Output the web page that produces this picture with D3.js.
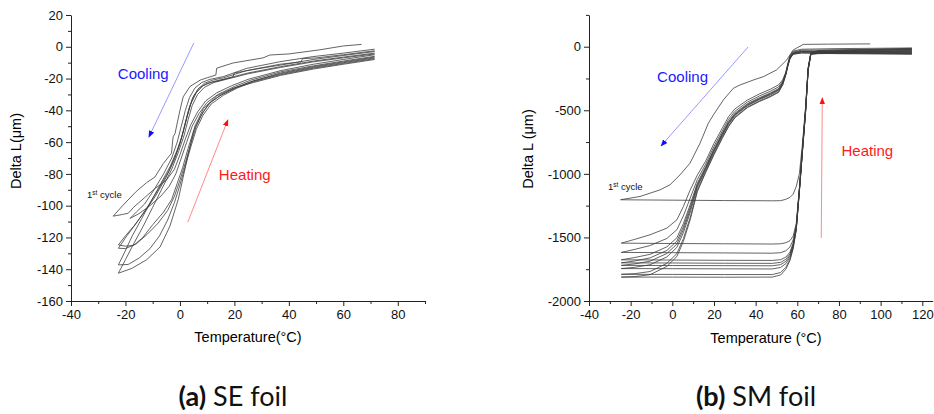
<!DOCTYPE html>
<html>
<head>
<meta charset="utf-8">
<script src="https://cdn.jsdelivr.net/npm/d3@7"></script>
<style>
  body { margin: 0; background: #fff; }
  text { font-family: "Liberation Sans", Arial, sans-serif; }
  text.caption { font-family: Lato, "Open Sans", sans-serif; }
</style>
</head>
<body>
<svg id="chart" width="934" height="414"></svg>
<script>
// ---- (a) SE foil : cooling branches (hot -> cold), [temperature, delta L]
var seCooling = [
  [[66.7,1.5],[60,0.5],[51,-2],[40,-4.5],[33,-5.2],[30.5,-7],[19.5,-10.2],[13.5,-13.5],[13.2,-17.8],[10,-19.5],[7.4,-21],[3.7,-25],[1.2,-31.5],[0,-40],[-1.8,-54.6],[-2.5,-56.7],[-3.1,-67],[-6.1,-73.5],[-9.2,-82],[-12.3,-85.6],[-16,-91],[-20.9,-99.7],[-24.5,-106.6]],
  [[71.5,-1.5],[60,-4],[48.8,-6.2],[36.7,-9.4],[24.5,-13.6],[15.9,-18.8],[11,-20.5],[8,-22.5],[5.5,-26],[3.5,-32],[2,-40],[0.5,-50],[-1,-60],[-3,-70],[-6,-80],[-9.5,-90],[-13,-99],[-16,-104],[-18.3,-108]],
  [[71.5,-2.5],[60,-5],[50,-7],[45,-7.5],[44.5,-9.5],[36.7,-11],[24.5,-15],[16,-19.5],[12,-21],[9,-23],[6.5,-27],[4.5,-33],[3,-41],[1.5,-51],[0,-61],[-2,-71],[-5,-82],[-9,-94],[-13,-104],[-17,-113],[-20,-119],[-22.6,-124.7]],
  [[71.5,-3],[60,-5.5],[49,-8],[37,-11.5],[28,-14],[20,-16.5],[19.5,-19],[14,-21.5],[10,-23],[7,-26],[5,-31],[3.5,-38],[2,-48],[0.5,-58],[-1.5,-68],[-4,-78],[-8,-90],[-12,-101],[-16,-111],[-19.5,-119],[-22.6,-126.8]],
  [[71.5,-4],[60,-6.5],[49,-9],[37,-12.5],[25,-16.5],[17,-20],[12,-22],[8.5,-24.5],[6,-29],[4,-36],[2.5,-45],[1,-55],[-1,-65],[-3.5,-75],[-7,-86],[-10.5,-97],[-14,-108],[-17.5,-119],[-20.5,-130],[-22.6,-137.3]],
  [[71.5,-4.5],[60,-7],[49,-9.5],[37,-13],[25,-17],[17,-20.5],[12.5,-22.5],[9,-25.5],[6.5,-30],[4.5,-37],[3,-46],[1.5,-56],[-0.5,-66],[-3,-77],[-6.5,-89],[-10,-101],[-13.5,-113],[-17,-124],[-20,-134],[-22.6,-142.5]]
];

// ---- (a) SE foil : heating branches (cold -> hot)
var seHeating = [
  [[-24.5,-106.6],[-21,-105.5],[-19,-104.8],[-17,-101],[-13,-95],[-9,-89],[-5,-84],[-2,-77],[0,-68],[2,-58],[4,-49],[6.5,-41],[9.5,-34],[13.5,-29],[19,-24.5],[25,-20.5],[37,-15],[49,-11],[60,-8],[71.5,-5]],
  [[-18.3,-108],[-15,-105],[-11,-100],[-7,-94],[-4,-88],[-1.5,-80],[0.5,-70],[2.5,-60],[4.5,-50],[7,-42],[10,-35],[14,-30],[20,-25],[26,-21],[37,-15.8],[49,-12],[60,-9],[71.5,-6]],
  [[-22.6,-124.7],[-20,-125.5],[-17,-125],[-13.6,-120],[-10,-112],[-6,-104],[-3,-96],[-1,-86],[1,-76],[3,-64],[5,-53],[7.5,-44],[10.5,-36],[14.5,-31],[20,-26],[26,-22],[37,-16.5],[49,-12.5],[60,-9.5],[71.5,-6.5]],
  [[-22.6,-126.8],[-20,-127],[-16,-124],[-12,-118],[-8,-111],[-4.5,-103],[-2,-94],[0,-84],[2,-73],[4,-61],[6,-50],[8.5,-41],[11.5,-34.5],[15.5,-30],[21,-25.5],[27,-21.5],[37,-17],[49,-13],[60,-10],[71.5,-7]],
  [[-22.6,-137.3],[-19,-137],[-15,-133],[-11,-127],[-7.5,-119],[-4.5,-109],[-2,-98],[0,-87],[2,-75],[4,-63],[6,-52],[8.5,-43],[11.5,-36],[16,-30.5],[21,-26],[27,-22],[37,-17.5],[49,-13.5],[60,-10.5],[71.5,-7.5]],
  [[-22.6,-142.5],[-17.7,-139.5],[-12.2,-134],[-7.3,-126],[-3.7,-113],[-0.6,-96],[1.2,-82],[3.1,-67],[5.5,-50],[8.6,-39],[13.5,-31],[19.6,-26],[27,-22.5],[37,-18],[49,-14],[60,-11],[71.5,-8]]
];

// ---- (b) SM foil : first cooling run
var smFirstCoolT = [95, 75, 62.9, 58, 54.9, 50, 43.7, 38.9, 32.5, 29.3, 24.5, 19.7, 17.3, 13.3, 8.5, 3.7, -1.1, -5.9, -15.5, -25];
var smFirstCoolY = [22, 20, 18, -26, -105, -183, -236, -262, -301, -327, -419, -537, -602, -759, -916, -1008, -1086, -1126, -1178, -1204];

// ---- (b) SM foil : later cooling runs, read at common temperatures
var smCoolT = [115, 80, 62, 58, 56.5, 55.5, 54.5, 53, 51, 47, 42, 36, 30, 27, 24, 20, 16, 12, 8.6, 5.3, 2.2, -2.6, -10.7, -18, -24.5];
var smCoolY = [
  [-10, -15, -20, -35, -70, -130, -200, -260, -300, -335, -370, -420, -490, -550, -640, -760, -900, -1010, -1126, -1257, -1361, -1427, -1479, -1515, -1545],
  [-22, -25, -28, -42, -77, -135, -205, -271, -316, -351, -386, -436, -509, -572, -662, -784, -924, -1045, -1190, -1331, -1439, -1508, -1564, -1594, -1618],
  [-32, -35, -34, -47, -82, -140, -210, -280, -330, -364, -400, -449, -524, -589, -679, -804, -944, -1074, -1241, -1392, -1503, -1574, -1633, -1658, -1676],
  [-40, -38, -38, -50, -85, -142, -212, -284, -335, -370, -405, -455, -531, -596, -686, -812, -952, -1085, -1262, -1417, -1529, -1602, -1661, -1685, -1700],
  [-45, -42, -40, -52, -87, -143, -213, -287, -340, -375, -410, -460, -536, -603, -693, -819, -959, -1096, -1281, -1439, -1552, -1626, -1687, -1708, -1720],
  [-50, -46, -43, -54, -89, -145, -215, -290, -345, -380, -415, -465, -543, -610, -700, -828, -968, -1108, -1302, -1463, -1578, -1653, -1715, -1735, -1745],
  [-55, -52, -48, -58, -93, -148, -218, -297, -355, -390, -425, -475, -555, -624, -714, -843, -983, -1130, -1342, -1510, -1627, -1704, -1768, -1785, -1790],
  [-60, -55, -50, -60, -95, -150, -220, -300, -360, -395, -430, -480, -560, -630, -720, -850, -990, -1140, -1361, -1532, -1650, -1728, -1793, -1808, -1812]
];

// ---- (b) SM foil : heating runs, read at common temperatures (first run first)
var smHeatT = [-24.5, 0, 25, 48, 52, 54.5, 56.5, 58, 59.5, 61, 62.5, 64, 65.2, 66.5, 70, 90, 115];
var smHeatY = [
  [-1204, -1207, -1210, -1212, -1211, -1200, -1185, -1160, -1100, -1000, -760, -470, -165, -48, -30, -22, -13],
  [-1545, -1548, -1550, -1552, -1550, -1542, -1525, -1490, -1390, -1110, -790, -480, -170, -50, -35, -25, -15],
  [-1618, -1620, -1622, -1624, -1620, -1605, -1575, -1520, -1410, -1120, -800, -490, -175, -52, -38, -28, -20],
  [-1676, -1678, -1680, -1681, -1675, -1655, -1615, -1545, -1420, -1125, -805, -495, -178, -55, -42, -32, -25],
  [-1700, -1701, -1703, -1704, -1696, -1672, -1630, -1555, -1425, -1128, -808, -498, -180, -56, -45, -36, -30],
  [-1720, -1721, -1722, -1723, -1714, -1688, -1642, -1562, -1428, -1130, -810, -500, -181, -57, -47, -40, -36],
  [-1745, -1746, -1747, -1748, -1736, -1706, -1655, -1570, -1432, -1133, -813, -503, -182, -58, -50, -44, -42],
  [-1790, -1791, -1792, -1792, -1776, -1735, -1670, -1582, -1437, -1137, -817, -507, -184, -59, -53, -48, -50],
  [-1812, -1812, -1813, -1812, -1795, -1750, -1680, -1590, -1440, -1140, -820, -510, -185, -60, -55, -50, -55]
];

var svg = d3.select('#chart');

function pairs(ts, ys) {
  return ts.map(function(t, i) { return [t, ys[i]]; });
}

function drawPanel(p) {
  var x = d3.scaleLinear().domain(p.xDomain).range(p.xRange);
  var y = d3.scaleLinear().domain(p.yDomain).range(p.yRange);
  var g = svg.append('g');
  var fmt = function(d) { return String(d); };

  // minor ticks first
  g.append('g')
    .attr('transform', 'translate(0,' + p.yRange[0] + ')')
    .call(d3.axisBottom(x).tickValues(p.xMinor).tickSize(3).tickFormat(''))
    .call(function(s) { s.select('.domain').remove(); });
  g.append('g')
    .attr('transform', 'translate(' + p.xRange[0] + ',0)')
    .call(d3.axisLeft(y).tickValues(p.yMinor).tickSize(3).tickFormat(''))
    .call(function(s) { s.select('.domain').remove(); });

  var xa = g.append('g')
    .attr('transform', 'translate(0,' + p.yRange[0] + ')')
    .call(d3.axisBottom(x).tickValues(p.xMajor).tickSize(5).tickSizeOuter(0).tickPadding(4).tickFormat(fmt));
  var ya = g.append('g')
    .attr('transform', 'translate(' + p.xRange[0] + ',0)')
    .call(d3.axisLeft(y).tickValues(p.yMajor).tickSize(5).tickSizeOuter(0).tickPadding(3).tickFormat(fmt));
  [xa, ya].forEach(function(a) {
    a.selectAll('text').attr('font-size', 13).attr('fill', '#111');
  });
  g.selectAll('.domain, .tick line').attr('stroke', '#222').attr('stroke-width', 1);

  var line = d3.line().x(function(d) { return x(d[0]); }).y(function(d) { return y(d[1]); });
  g.append('g').selectAll('path')
    .data(p.curves)
    .enter()
    .append('path')
      .attr('d', line)
      .attr('fill', 'none')
      .attr('stroke', '#3c3c3c')
      .attr('stroke-width', 0.8)
      .attr('stroke-linejoin', 'round');

  // axis titles
  g.append('text')
    .attr('x', p.xTitlePos[0]).attr('y', p.xTitlePos[1])
    .attr('text-anchor', 'middle').attr('font-size', 14.5)
    .text(p.xTitle);
  g.append('text')
    .attr('transform', 'translate(' + p.yTitlePos[0] + ',' + p.yTitlePos[1] + ') rotate(-90)')
    .attr('text-anchor', 'middle').attr('font-size', 14.5)
    .text(p.yTitle);

  // cooling / heating arrows
  p.arrows.forEach(function(a) {
    g.append('line')
      .attr('x1', x(a.from[0])).attr('y1', y(a.from[1]))
      .attr('x2', x(a.to[0])).attr('y2', y(a.to[1]))
      .attr('stroke', a.line).attr('stroke-width', 1)
      .attr('marker-end', 'url(#' + a.marker + ')');
  });
  p.labels.forEach(function(l) {
    g.append('text')
      .attr('x', x(l.at[0])).attr('y', y(l.at[1]))
      .attr('dy', '0.35em').attr('font-size', 15)
      .attr('fill', l.color)
      .text(l.text);
  });

  // 1st cycle note
  var note = g.append('text')
    .attr('x', x(p.firstAt[0])).attr('y', y(p.firstAt[1]))
    .attr('dy', '0.35em').attr('font-size', 9.5).attr('fill', '#111');
  note.append('tspan').text('1');
  note.append('tspan').attr('font-size', 6.5).attr('dy', '-0.5em').text('st');
  note.append('tspan').attr('dy', '0.32em').text(' cycle');

  // caption
  var cap = svg.append('text')
    .attr('class', 'caption')
    .attr('x', p.captionPos[0]).attr('y', p.captionPos[1])
    .attr('text-anchor', 'middle')
    .attr('font-size', 27).attr('fill', '#111');
  cap.append('tspan').attr('font-weight', 'bold').text(p.captionTag);
  cap.append('tspan').text(' ' + p.captionText);
}

// arrowheads
var defs = svg.append('defs');
[['headBlue', '#1010ff'], ['headRed', '#ff1010']].forEach(function(m) {
  defs.append('marker')
    .attr('id', m[0])
    .attr('viewBox', '0 -5 10 10')
    .attr('refX', 9).attr('refY', 0)
    .attr('markerWidth', 7).attr('markerHeight', 7)
    .attr('markerUnits', 'userSpaceOnUse')
    .attr('orient', 'auto')
    .append('path')
      .attr('d', 'M0,-4L10,0L0,4Z')
      .attr('fill', m[1]);
});

var smCurves = [pairs(smFirstCoolT, smFirstCoolY)]
  .concat(smCoolY.map(function(ys) { return pairs(smCoolT, ys); }))
  .concat(smHeatY.map(function(ys) { return pairs(smHeatT, ys); }));

drawPanel({
  xDomain: [-40, 90], xRange: [71, 425],
  yDomain: [-160, 20], yRange: [301, 15],
  xMajor: d3.range(-40, 81, 20), xMinor: d3.range(-30, 91, 20),
  yMajor: d3.range(-160, 21, 20), yMinor: d3.range(-150, 20, 20),
  curves: seCooling.concat(seHeating),
  xTitle: 'Temperature(\u00b0C)', xTitlePos: [248, 342],
  yTitle: 'Delta L(\u03bcm)', yTitlePos: [21, 151],
  arrows: [
    { from: [5.1, 2.4], to: [-11.4, -56.8], line: '#9a9aff', marker: 'headBlue' },
    { from: [2.9, -110.3], to: [17.6, -46], line: '#ff8a8a', marker: 'headRed' }
  ],
  labels: [
    { at: [-22.8, -17.1], text: 'Cooling', color: '#1a1aff' },
    { at: [14.3, -80.7], text: 'Heating', color: '#ff1a1a' }
  ],
  firstAt: [-34.1, -93.3],
  captionPos: [233, 406], captionTag: '(a)', captionText: 'SE foil'
});

drawPanel({
  xDomain: [-40, 125], xRange: [589, 932.7],
  yDomain: [-2000, 250], yRange: [301, 14.9],
  xMajor: d3.range(-40, 121, 20), xMinor: d3.range(-30, 121, 20),
  yMajor: d3.range(-2000, 1, 500), yMinor: d3.range(-1750, 251, 500),
  curves: smCurves,
  xTitle: 'Temperature (\u00b0C)', xTitlePos: [766, 343],
  yTitle: 'Delta L (\u03bcm)', yTitlePos: [533, 149],
  arrows: [
    { from: [36.4, -2], to: [-5.4, -780], line: '#9a9aff', marker: 'headBlue' },
    { from: [71.5, -1503], to: [72, -403], line: '#ff8a8a', marker: 'headRed' }
  ],
  labels: [
    { at: [-7.3, -238], text: 'Cooling', color: '#1a1aff' },
    { at: [81.2, -820], text: 'Heating', color: '#ff1a1a' }
  ],
  firstAt: [-30.9, -1102],
  captionPos: [756, 406], captionTag: '(b)', captionText: 'SM foil'
});
</script>
</body>
</html>
